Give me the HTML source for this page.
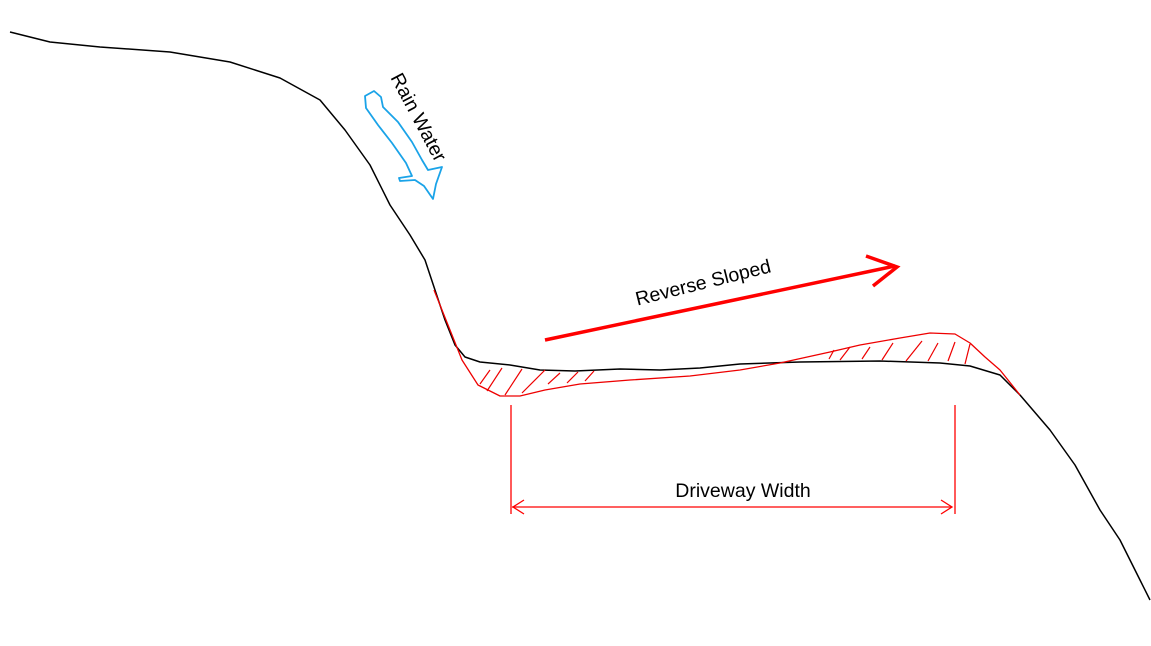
<!DOCTYPE html>
<html><head><meta charset="utf-8"><style>
html,body{margin:0;padding:0;background:#fff;width:1151px;height:646px;overflow:hidden}
svg{display:block}
text{font-family:"Liberation Sans",sans-serif;font-size:19.5px;fill:#000}
</style></head><body>
<svg width="1151" height="646" viewBox="0 0 1151 646">
<path d="M10,32 L50,42 L100,47 L170,52 L230,62 L280,78 L320,100 L345,130 L370,165 L390,205 L410,235 L425,260 L435,290 L445,320 L455,345 L465,357 L480,362 L510,365 L540,370 L575,371 L620,369 L660,370 L700,368 L740,364 L800,362 L880,361 L940,363 L970,366 L1000,375 L1020,395 L1050,430 L1075,465 L1100,510 L1120,540 L1140,580 L1150,600" fill="none" stroke="#000" stroke-width="1.5" stroke-linejoin="round"/>
<path d="M434,290 L450,330 L462,360 L478,385 L500,396 L520,396 L545,390 L580,384 L630,380 L690,376 L740,370 L780,363 L830,352 L860,345 L900,338 L930,333 L955,334 L970,343 L985,357 L1000,370 L1020,395" fill="none" stroke="#e00" stroke-width="1.3" stroke-linejoin="round"/>
<g stroke="#e00" stroke-width="1.2">
<line x1="480" y1="384" x2="490" y2="370"/><line x1="487" y1="391" x2="502" y2="368"/>
<line x1="505" y1="395" x2="522" y2="369"/><line x1="522" y1="393" x2="545" y2="370"/>
<line x1="548" y1="384" x2="560" y2="373"/><line x1="567" y1="383" x2="578" y2="372"/>
<line x1="585" y1="381" x2="594" y2="371"/>
<line x1="829" y1="359" x2="834" y2="350"/><line x1="840" y1="360" x2="850" y2="347"/>
<line x1="862" y1="359" x2="870" y2="347"/><line x1="882" y1="360" x2="893" y2="343"/>
<line x1="906" y1="361" x2="922" y2="341"/><line x1="928" y1="361" x2="938" y2="343"/>
<line x1="948" y1="361" x2="955" y2="342"/><line x1="965" y1="364" x2="970" y2="344"/>
</g>
<line x1="545" y1="340" x2="895" y2="266" stroke="#f00" stroke-width="3.5"/>
<polyline points="866,256 897,267 873,286" fill="none" stroke="#f00" stroke-width="3.5"/>
<text x="703" y="289" transform="rotate(-14 703 282)" text-anchor="middle">Reverse Sloped</text>
<g stroke="#f00" stroke-width="1.3" fill="none">
<line x1="511" y1="405" x2="511" y2="514"/><line x1="955" y1="405" x2="955" y2="514"/>
<line x1="512" y1="507" x2="952" y2="507"/>
<polyline points="524,500 513,507 524,514"/><polyline points="941,500 952,507 941,514"/>
</g>
<text x="743" y="497" text-anchor="middle">Driveway Width</text>
<path d="M365,96 L374,91 L381,97 L383,107 L398,122 L412,142 L422,160 L428,170 L442,167 L436,184 L433,199 L424,186 L415,180 L400,181 L399,178 L412,176 L406,163 L392,143 L378,125 L366,108 Z" fill="none" stroke="#1aa3e8" stroke-width="1.8" stroke-linejoin="round"/>
<text x="419" y="124" transform="rotate(62 419 117)" text-anchor="middle">Rain Water</text>
</svg>
</body></html>
